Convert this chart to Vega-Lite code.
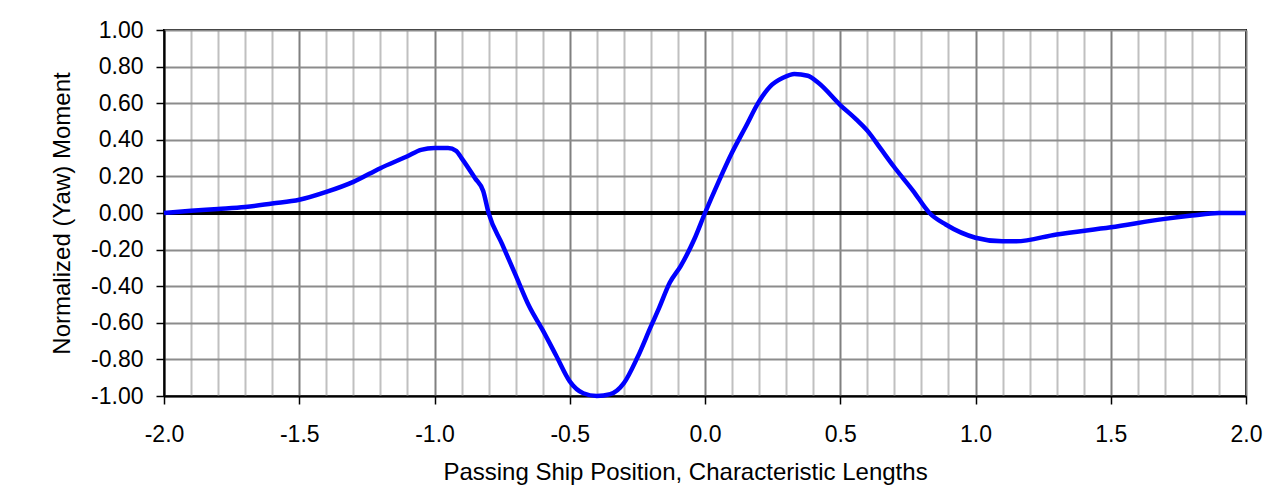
{
  "$schema": "https://vega.github.io/schema/vega-lite/v6.json",
  "width": 1082,
  "height": 366,
  "autosize": {"type": "none"},
  "padding": {"left": 164, "top": 30, "right": 27, "bottom": 104},
  "background": "white",
  "config": {
    "view": {"stroke": "black", "strokeWidth": 2},
    "font": "Liberation Sans",
    "axis": {"labelFont": "Liberation Sans", "titleFont": "Liberation Sans", "labelColor": "black", "titleColor": "black", "titleFontWeight": "normal"},
    "axisY": {
      "values": [-1,-0.8,-0.6,-0.4,-0.2,0,0.2,0.4,0.6,0.8,1],
      "format": ".2f",
      "labelExpr": "replace(datum.label, '\u2212', '-')",
      "labelFontSize": 23,
      "labelPadding": 13,
      "labelFlush": false,
      "labelOverlap": false,
      "grid": true,
      "gridColor": "#8c8c8c",
      "gridWidth": 2,
      "tickSize": 8,
      "tickWidth": 1.5,
      "tickColor": "black",
      "domainColor": "black",
      "domainWidth": 2,
      "titleFontSize": 24,
      "titleAngle": -90,
      "titleX": -102,
      "titleY": 183,
      "titleAlign": "center",
      "titleBaseline": "middle"
    }
  },
  "data": {"values": [
    {"x": -2.0, "y": 0.0},
    {"x": -1.9, "y": 0.012},
    {"x": -1.8, "y": 0.022},
    {"x": -1.7, "y": 0.033},
    {"x": -1.6, "y": 0.052},
    {"x": -1.5, "y": 0.072},
    {"x": -1.4, "y": 0.115},
    {"x": -1.3, "y": 0.17},
    {"x": -1.2, "y": 0.245},
    {"x": -1.1, "y": 0.31},
    {"x": -1.05, "y": 0.345},
    {"x": -1.0, "y": 0.355},
    {"x": -0.95, "y": 0.355},
    {"x": -0.92, "y": 0.34},
    {"x": -0.9, "y": 0.3},
    {"x": -0.85, "y": 0.19},
    {"x": -0.82, "y": 0.12},
    {"x": -0.8, "y": 0.0},
    {"x": -0.75, "y": -0.17},
    {"x": -0.7, "y": -0.34},
    {"x": -0.65, "y": -0.51},
    {"x": -0.6, "y": -0.64},
    {"x": -0.55, "y": -0.78},
    {"x": -0.5, "y": -0.92},
    {"x": -0.45, "y": -0.985},
    {"x": -0.4, "y": -1.0},
    {"x": -0.35, "y": -0.99},
    {"x": -0.3, "y": -0.93},
    {"x": -0.25, "y": -0.79},
    {"x": -0.2, "y": -0.62},
    {"x": -0.17, "y": -0.52},
    {"x": -0.13, "y": -0.38},
    {"x": -0.09, "y": -0.29},
    {"x": -0.04, "y": -0.145},
    {"x": 0.0, "y": 0.0},
    {"x": 0.05, "y": 0.17},
    {"x": 0.1, "y": 0.33},
    {"x": 0.15, "y": 0.47},
    {"x": 0.2, "y": 0.61},
    {"x": 0.24, "y": 0.69},
    {"x": 0.29, "y": 0.74},
    {"x": 0.33, "y": 0.76},
    {"x": 0.38, "y": 0.75},
    {"x": 0.42, "y": 0.71},
    {"x": 0.5, "y": 0.59},
    {"x": 0.56, "y": 0.51},
    {"x": 0.6, "y": 0.45},
    {"x": 0.65, "y": 0.35},
    {"x": 0.7, "y": 0.25},
    {"x": 0.77, "y": 0.12},
    {"x": 0.83, "y": 0.0},
    {"x": 0.89, "y": -0.063},
    {"x": 1.0, "y": -0.135},
    {"x": 1.1, "y": -0.155},
    {"x": 1.15, "y": -0.155},
    {"x": 1.3, "y": -0.117},
    {"x": 1.5, "y": -0.078},
    {"x": 1.7, "y": -0.032},
    {"x": 1.8, "y": -0.014},
    {"x": 1.9, "y": 0.0},
    {"x": 2.0, "y": 0.0}
  ]},
  "layer": [
    {
      "mark": {"type": "rule", "color": "black", "strokeWidth": 3},
      "encoding": {
        "y": {"datum": 0, "type": "quantitative", "scale": {"domain": [-1, 1], "nice": false}, "title": "Normalized (Yaw) Moment"}
      }
    },
    {
      "mark": {"type": "line", "color": "#0000FF", "strokeWidth": 4.5, "interpolate": "monotone", "clip": false},
      "encoding": {
        "x": {
          "field": "x", "type": "quantitative",
          "scale": {"domain": [-2, 2], "nice": false, "zero": false},
          "axis": {
            "values": [-2,-1.9,-1.8,-1.7,-1.6,-1.5,-1.4,-1.3,-1.2,-1.1,-1,-0.9,-0.8,-0.7,-0.6,-0.5,-0.4,-0.3,-0.2,-0.1,0,0.1,0.2,0.3,0.4,0.5,0.6,0.7,0.8,0.9,1,1.1,1.2,1.3,1.4,1.5,1.6,1.7,1.8,1.9,2],
            "format": ".1f",
            "labelExpr": "abs(round(datum.value*10)) % 5 == 0 ? replace(datum.label, '\u2212', '-') : ''",
            "labelFontSize": 23,
            "labelPadding": 19,
            "labelAngle": 0,
            "labelFlush": false,
            "labelOverlap": false,
            "grid": true,
            "gridColor": {"condition": {"test": "abs(round(datum.value*10)) % 5 == 0", "value": "#808080"}, "value": "#c0c0c0"},
            "gridWidth": 2,
            "ticks": true,
            "tickSize": 8,
            "tickWidth": 1.5,
            "tickColor": "black",
            "tickOpacity": {"condition": {"test": "abs(round(datum.value*10)) % 5 == 0", "value": 1}, "value": 0},
            "domainColor": "black",
            "domainWidth": 2,
            "title": "Passing Ship Position, Characteristic Lengths",
            "titleFontSize": 24,
            "titleX": 521,
            "titleY": 83,
            "titleAlign": "center",
            "titleBaseline": "alphabetic",
            "titleAnchor": null
          }
        },
        "y": {
          "field": "y", "type": "quantitative",
          "scale": {"domain": [-1, 1], "nice": false},
          "title": "Normalized (Yaw) Moment"
        }
      }
    }
  ]
}
